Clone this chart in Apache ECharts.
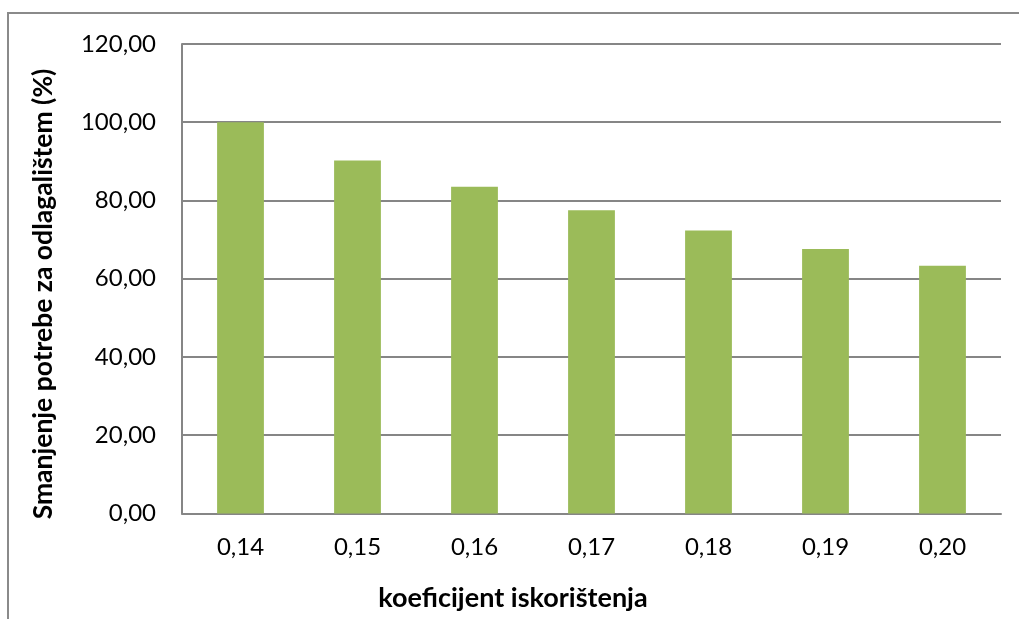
<!DOCTYPE html>
<html>
<head>
<meta charset="utf-8">
<script src="https://cdn.jsdelivr.net/npm/echarts@6/dist/echarts.min.js"></script>
<style>html,body{margin:0;padding:0;background:#fff;}#c{width:1019px;height:619px;}</style>
</head>
<body>
<div id="c"></div>
<script>
const categories = ['0,14', '0,15', '0,16', '0,17', '0,18', '0,19', '0,20'];
const values = [100.0, 90.2, 83.5, 77.5, 72.3, 67.6, 63.3];
const yTitle = 'Smanjenje potrebe za odlagalištem (%)';
const xTitle = 'koeficijent iskorištenja';

const FONT = 'Lato, "Open Sans", sans-serif';
const chart = echarts.init(document.getElementById('c'));
chart.setOption({
  animation: false,
  backgroundColor: '#fff',
  grid: { left: 182, right: 18, top: 44, bottom: 105.6 },
  xAxis: {
    type: 'category',
    data: categories,
    axisLine: { show: true, lineStyle: { color: '#868686', width: 2 } },
    axisTick: { show: false },
    axisLabel: { color: '#000', fontFamily: FONT, fontSize: 24, margin: 22 }
  },
  yAxis: {
    type: 'value',
    min: 0, max: 120, interval: 20,
    axisLine: { show: true, lineStyle: { color: '#868686', width: 2 } },
    axisTick: { show: false },
    splitLine: { show: true, lineStyle: { color: '#868686', width: 2 } },
    axisLabel: {
      color: '#000', fontFamily: FONT, fontSize: 24, margin: 26,
      formatter: v => v.toFixed(2).replace('.', ',')
    }
  },
  series: [{
    type: 'bar',
    data: values,
    barWidth: '40%',
    itemStyle: { color: '#9BBB59' }
  }],
  graphic: [
    { type: 'rect', silent: true, z: -1,
      shape: { x: 8, y: 13, width: 1200, height: 800 },
      style: { fill: 'none', stroke: '#8a8a8a', lineWidth: 2 } },
    { type: 'text', x: 43, y: 294, rotation: Math.PI / 2,
      style: { text: yTitle, font: 'bold 26.5px ' + FONT, fill: '#000', textAlign: 'center', textVerticalAlign: 'middle' } },
    { type: 'text', x: 513, y: 598,
      style: { text: xTitle, font: 'bold 27px ' + FONT, fill: '#000', textAlign: 'center', textVerticalAlign: 'middle' } }
  ]
});
</script>
</body>
</html>
